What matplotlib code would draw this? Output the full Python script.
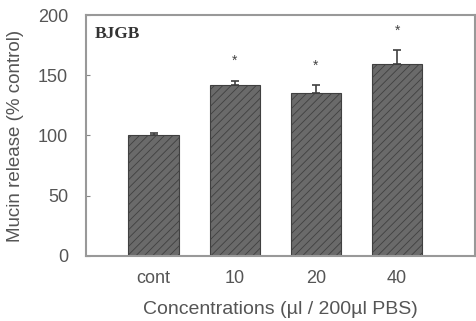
import matplotlib.pyplot as plt
import numpy as np

# data
groups = ["cont", "10", "20", "40"]
values = [100, 142, 135, 159]
errors = [2, 3, 7, 12]
star_y = [None, 162, 158, 187]

plt.rcParams["font.family"] = ["Liberation Sans", "DejaVu Sans"]
plt.rcParams["hatch.color"] = "#9a9a9a"
plt.rcParams["hatch.linewidth"] = 0.6

fig = plt.figure(figsize=(4.76, 3.21), dpi=100)
ax = fig.add_axes([0.181, 0.203, 0.817, 0.750])

x = np.arange(len(groups))
ax.bar(x, values, width=0.62, color="#6a6a6a", edgecolor="#404040",
       linewidth=0.8, hatch="////")
ax.errorbar(x, values, yerr=[np.zeros(len(errors)), errors], fmt="none",
            ecolor="#404040", elinewidth=1.2, capsize=3, capthick=1.2)

for xi, sy in zip(x, star_y):
    if sy is not None:
        ax.text(xi, sy, "*", ha="center", va="center", fontsize=10, color="#444444")

ax.text(0.022, 0.92, "BJGB", transform=ax.transAxes, fontsize=12.5,
        fontweight="bold", family="Liberation Serif", color="#333333", va="center")

ax.set_xlim(-0.83, 3.96)
ax.set_ylim(0, 200)
ax.set_yticks([0, 50, 100, 150, 200])
ax.set_xticks(x)
ax.set_xticklabels(groups)
ax.tick_params(axis="x", length=0, pad=10, labelsize=13, labelcolor="#555555")
ax.tick_params(axis="y", direction="in", length=3, width=0.8, color="#888888",
               pad=13, labelsize=13, labelcolor="#555555")
for sp in ax.spines.values():
    sp.set_color("#999999")
    sp.set_linewidth(1.5)

ax.set_ylabel("Mucin release (% control)", fontsize=13.5, color="#555555")
ax.yaxis.set_label_coords(-0.16, 0.5)
ax.set_xlabel("Concentrations (\u00b5l / 200\u00b5l PBS)", fontsize=14,
              color="#555555", labelpad=10)

plt.savefig("out.png", dpi=100)
